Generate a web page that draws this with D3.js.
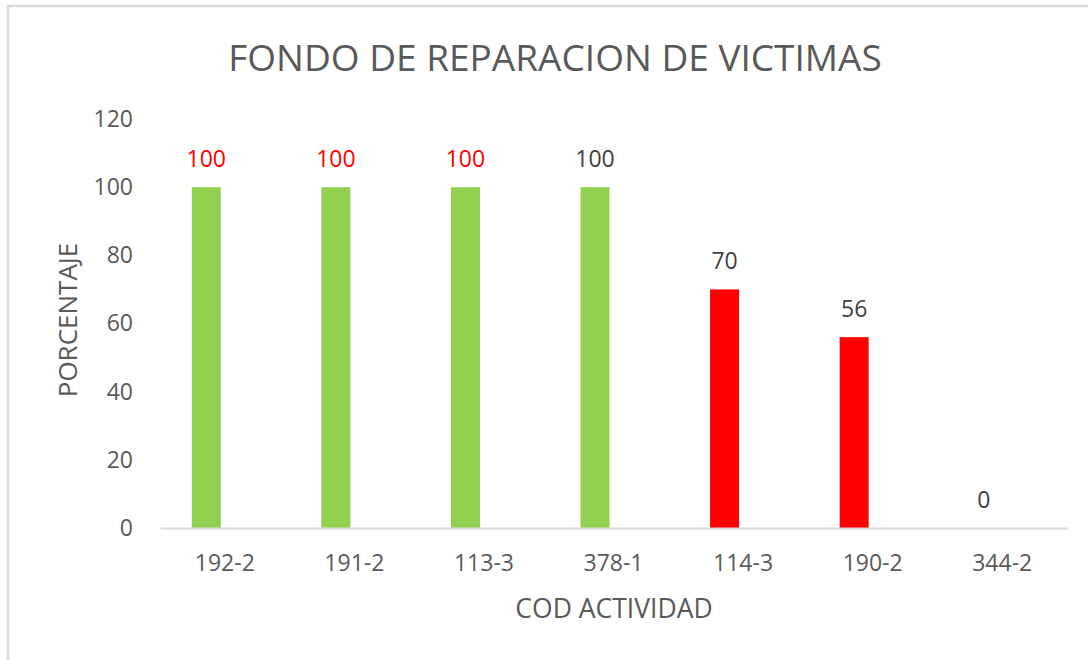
<!DOCTYPE html>
<html>
<head>
<meta charset="utf-8">
<script src="https://cdn.jsdelivr.net/npm/d3@7"></script>
<style>
  body { margin: 0; background: #fff; }
  text { font-family: "Open Sans", sans-serif; }
</style>
</head>
<body>
<div id="chart"></div>
<script>
// Chart data
const categories = ["192-2", "191-2", "113-3", "378-1", "114-3", "190-2", "344-2"];
const values = [100, 100, 100, 100, 70, 56, 0];
const barColors = ["#92D050", "#92D050", "#92D050", "#92D050", "#FF0000", "#FF0000", "#FF0000"];
const labelColors = ["#FF0000", "#FF0000", "#FF0000", "#404040", "#404040", "#404040", "#404040"];
const yTicks = [0, 20, 40, 60, 80, 100, 120];

const width = 1088, height = 660;
const margins = { top: 119, right: 21, bottom: 132, left: 160 };

let svg = d3.select("#chart")
  .append("svg")
    .attr("width", width)
    .attr("height", height);

// Outer frame (only left and top edges are visible in the picture)
svg.append("rect")
  .attr("x", 8)
  .attr("y", 6)
  .attr("width", width + 20)
  .attr("height", height + 20)
  .style("fill", "none")
  .style("stroke", "#D9D9D9")
  .style("stroke-width", 2.5);

let xScale = d3.scaleBand()
  .domain(categories)
  .range([margins.left, width - margins.right]);

// Each category holds two slots, the visible bar sits in the first
let slotScale = d3.scaleBand()
  .domain(["a", "b"])
  .range([xScale.bandwidth() / 2 - 33, xScale.bandwidth() / 2 + 29])
  .paddingInner(0.12);

let yScale = d3.scaleLinear()
  .domain([0, 120])
  .range([height - margins.bottom, margins.top]);

// Title
svg.append("text")
  .attr("x", 555)
  .attr("y", 71)
  .style("text-anchor", "middle")
  .style("font-size", "37px")
  .style("fill", "#595959")
  .text("FONDO DE REPARACION DE VICTIMAS");

// Y axis tick labels
let yAxis = d3.axisLeft(yScale).tickValues(yTicks).tickSize(0).tickPadding(27);
let yg = svg.append("g")
  .attr("transform", "translate(" + margins.left + ",0)")
  .call(yAxis);
yg.select(".domain").remove();
yg.selectAll("text")
  .style("font-size", "23px")
  .style("fill", "#595959")
  .style("font-family", "'Open Sans', sans-serif");

// Bars
svg.append("g")
  .selectAll("rect")
  .data(values)
  .enter().append("rect")
    .attr("x", (d, i) => xScale(categories[i]) + slotScale("a"))
    .attr("y", d => yScale(d))
    .attr("width", slotScale.bandwidth())
    .attr("height", d => yScale(0) - yScale(d))
    .style("fill", (d, i) => barColors[i]);

// Value labels
svg.append("g")
  .selectAll("text")
  .data(values)
  .enter().append("text")
    .attr("x", (d, i) => xScale(categories[i]) + slotScale("a") + slotScale.bandwidth() / 2)
    .attr("y", d => yScale(d) - 20)
    .style("text-anchor", "middle")
    .style("font-size", "23px")
    .style("fill", (d, i) => labelColors[i])
    .text(d => d);

// X axis
let xAxis = d3.axisBottom(xScale).tickSize(0).tickPadding(27);
let xg = svg.append("g")
  .attr("transform", "translate(0," + yScale(0) + ")")
  .call(xAxis);
xg.select(".domain")
  .style("stroke", "#D9D9D9")
  .style("stroke-width", 2);
xg.selectAll("text")
  .style("font-size", "23px")
  .style("fill", "#595959")
  .style("font-family", "'Open Sans', sans-serif");

// Axis titles
svg.append("text")
  .attr("x", 614)
  .attr("y", 618)
  .style("text-anchor", "middle")
  .style("font-size", "26.5px")
  .style("fill", "#595959")
  .text("COD ACTIVIDAD");

svg.append("text")
  .attr("transform", "translate(77," + 320 + ") rotate(-90)")
  .style("text-anchor", "middle")
  .style("font-size", "26px")
  .style("fill", "#595959")
  .text("PORCENTAJE");
</script>
</body>
</html>
